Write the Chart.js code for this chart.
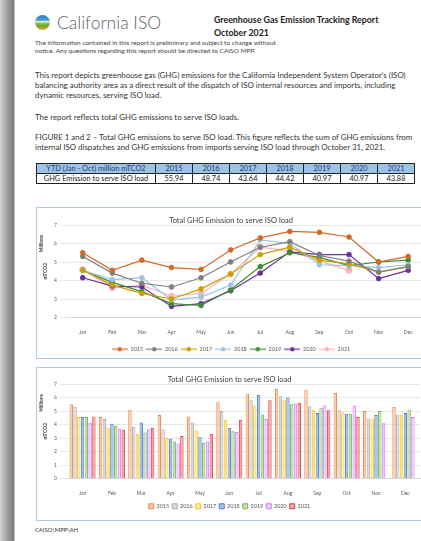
<!DOCTYPE html>
<html>
<head>
<meta charset="utf-8">
<title>Greenhouse Gas Emission Tracking Report</title>
<script src="https://cdn.jsdelivr.net/npm/chart.js@4.4.0/dist/chart.umd.min.js"></script>
<style>
    html, body {
        margin: 0;
        padding: 0;
        width: 421px;
        height: 541px;
        overflow: hidden;
        font-family: Lato, 'Liberation Sans', sans-serif;
        color: #333;
        background: linear-gradient(to right, #d4d4d4 0px, #9a9a9a 8px, #7d7d7d 14px, #ffffff 15px);
    }
    .page {
        position: absolute;
        left: 15px;
        top: 4px;
        width: 430px;
        height: 545px;
        background: #fff;
    }
    .abs { position: absolute; white-space: nowrap; }
    .logo {
        left: 20px; top: 11px; width: 15px; height: 15px; border-radius: 50%;
        background: linear-gradient(to bottom, #2a7fc1 0%, #4aa0d8 35%, #f2f2f2 45%, #8dc63f 55%, #6aa631 72%, #f5a623 100%);
    }
    .brand { left: 42px; top: 8px; font-size: 17.5px; color: #56636e; font-weight: 300; }
    .heading { left: 199px; top: 9px; font-size: 8.8px; font-weight: bold; color: #222; line-height: 13px; }
    .small { left: 20px; font-size: 6.5px; color: #444; line-height: 8px; }
    .para { left: 20px; font-size: 7.9px; color: #333; line-height: 10px; }
    table.ytd {
        position: absolute;
        left: 21px;
        top: 159px;
        border-collapse: collapse;
        font-size: 7.4px;
        color: #222;
    }
    table.ytd td {
        border: 1px solid #222;
        height: 9px;
        padding: 0 2px;
        text-align: center;
        line-height: 9px;
    }
    table.ytd tr.head td { background: #9dc3e6; color: #1f3c66; }
    table.ytd td.first { width: 114px; }
    table.ytd td.num { width: 32px; }
    .box {
        position: absolute;
        left: 21px;
        width: 400px;
        border: 1px solid #b3c8de;
        background: #fff;
    }
    .footer { left: 20px; top: 522px; font-size: 5.8px; color: #333; }
</style>
</head>
<body>
<div class="page">
    <div class="abs logo"></div>
    <div class="abs brand">California ISO</div>
    <div class="abs heading">Greenhouse Gas Emission Tracking Report<br>October 2021</div>
    <div class="abs small" style="top:35px">The information contained in this report is preliminary and subject to change without<br>notice. Any questions regarding this report should be directed to CAISO MPP.</div>
    <div class="abs para" style="top:66px">This report depicts greenhouse gas (GHG) emissions for the California Independent System Operator's (ISO)<br>balancing authority area as a direct result of the dispatch of ISO internal resources and imports, including<br>dynamic resources, serving ISO load.</div>
    <div class="abs para" style="top:108px">The report reflects total GHG emissions to serve ISO loads.</div>
    <div class="abs para" style="top:128px">FIGURE 1 and 2 &ndash; Total GHG emissions to serve ISO load. This figure reflects the sum of GHG emissions from<br>internal ISO dispatches and GHG emissions from imports serving ISO load through October 31, 2021.</div>
    <table class="ytd" id="ytdTable"></table>

    <div class="box" style="top:203px; height:150px;">
        <canvas id="lineChart"></canvas>
    </div>
    <div class="box" style="top:363px; height:152px;">
        <canvas id="barChart"></canvas>
    </div>
    <div class="abs footer">CAISO\MPP\AH</div>
</div>

<script>
// Chart data
const months = ['Jan', 'Feb', 'Mar', 'Apr', 'May', 'Jun', 'Jul', 'Aug', 'Sep', 'Oct', 'Nov', 'Dec'];
const years = ['2015', '2016', '2017', '2018', '2019', '2020', '2021'];
const ytdTotals = ['55.94', '48.74', '43.64', '44.42', '40.97', '40.97', '43.88'];

const ghg2015 = [5.50, 4.55, 5.10, 4.70, 4.60, 5.65, 6.30, 6.65, 6.60, 6.35, 5.00, 5.30];
const ghg2016 = [5.30, 4.40, 3.85, 3.65, 4.15, 5.00, 5.80, 6.10, 5.35, 5.05, 4.45, 4.75];
const ghg2017 = [4.55, 3.75, 3.30, 3.00, 3.55, 4.35, 5.40, 5.80, 5.10, 4.90, 4.45, 4.75];
const ghg2018 = [4.55, 4.05, 4.15, 2.95, 3.10, 3.75, 6.20, 6.00, 4.85, 4.80, 4.70, 4.85];
const ghg2019 = [4.55, 3.90, 3.40, 2.75, 2.65, 3.50, 4.75, 5.50, 5.25, 4.80, 5.00, 5.10];
const ghg2020 = [4.15, 3.70, 3.65, 2.60, 2.75, 3.45, 4.40, 5.55, 5.40, 5.40, 4.10, 4.55];
const ghg2021 = [4.60, 3.60, 3.75, 3.15, 3.30, 4.35, 5.80, 5.60, 5.05, 4.55, null, null];
const series = [ghg2015, ghg2016, ghg2017, ghg2018, ghg2019, ghg2020, ghg2021];

const lineTicks = [2, 3, 4, 5, 6, 7];
const barTicks = [0, 1, 2, 3, 4, 5, 6, 7];

// Colours (Excel-like)
const lineColors = ['#cf6a2b', '#7f7f7f', '#c9a000', '#9cc3e5', '#3d8b35', '#6b2d9e', '#f5b5bd'];
const barFills = ['#f8cbad', '#dbdbdb', '#ffe699', '#9dc3e6', '#c5e0b4', '#f1d0fb', '#f3a3ad'];
const barBorders = ['#ed7d31', '#a5a5a5', '#ffc000', '#4472c4', '#70ad47', '#cc66ff', '#e0302f'];

const FONT = 'Lato, "Liberation Sans", sans-serif';

// Build YTD table
function buildTable() {
    const table = document.getElementById('ytdTable');
    let head = '<tr class="head"><td class="first">YTD (Jan - Oct) million mTCO2</td>';
    let row = '<tr><td class="first">GHG Emission to serve ISO load</td>';
    years.forEach((y, i) => {
        head += '<td class="num">' + y + '</td>';
        row += '<td class="num">' + ytdTotals[i] + '</td>';
    });
    table.innerHTML = head + '</tr>' + row + '</tr>';
}

// Small legend icon: line with a round marker
function lineIcon(color) {
    const c = document.createElement('canvas');
    c.width = 16;
    c.height = 6;
    const ctx = c.getContext('2d');
    ctx.strokeStyle = color;
    ctx.lineWidth = 1.2;
    ctx.beginPath();
    ctx.moveTo(0, 3);
    ctx.lineTo(16, 3);
    ctx.stroke();
    ctx.fillStyle = color;
    ctx.beginPath();
    ctx.arc(8, 3, 2.2, 0, Math.PI * 2);
    ctx.fill();
    return c;
}

// "Millions" display-unit label next to the y axis title
const unitLabel = {
    id: 'unitLabel',
    afterDraw: function(chart) {
        const {ctx, chartArea} = chart;
        const yScale = chart.scales.y;
        ctx.save();
        ctx.font = 'bold 5px ' + FONT;
        ctx.fillStyle = '#404040';
        ctx.textAlign = 'center';
        ctx.textBaseline = 'middle';
        ctx.translate(yScale.left + 2, chartArea.top + (chartArea.bottom - chartArea.top) * 0.2);
        ctx.rotate(-Math.PI / 2);
        ctx.fillText('Millions', 0, 0);
        ctx.restore();
    }
};

function commonScales(min, max, ticks, xGap) {
    return {
        x: {
            offset: true,
            grid: { display: false },
            border: { color: '#d9d9d9' },
            ticks: { font: { size: 5, family: FONT }, color: '#595959', padding: 4 },
            afterFit: function(axis) {
                axis.height += xGap;
            }
        },
        y: {
            min: min,
            max: max,
            afterBuildTicks: function(axis) {
                axis.ticks = ticks.map(v => ({ value: v }));
            },
            grid: { color: '#e2e2e2', lineWidth: 0.8 },
            border: { display: false },
            ticks: { font: { size: 5, family: FONT }, color: '#595959', padding: 3 },
            title: { display: true, text: 'mTCO2', font: { size: 5, weight: 'bold', family: FONT }, color: '#404040', padding: 3 }
        }
    };
}

function initializeCharts() {
    Chart.defaults.font.family = FONT;
    Chart.defaults.animation = false;

    // Line chart
    new Chart(document.getElementById('lineChart'), {
        type: 'line',
        data: {
            labels: months,
            datasets: years.map((y, i) => ({
                label: y,
                data: series[i],
                borderColor: lineColors[i],
                backgroundColor: lineColors[i],
                borderWidth: 1.2,
                pointRadius: i === 6 ? 3 : 2.4,
                pointBorderWidth: 0.8,
                tension: 0
            }))
        },
        options: {
            responsive: true,
            maintainAspectRatio: false,
            layout: { padding: { left: 2, right: 14, top: 0, bottom: -4 } },
            plugins: {
                title: {
                    display: true,
                    text: 'Total GHG Emission to serve ISO load',
                    font: { size: 7.5, weight: 'normal', family: FONT },
                    color: '#404040',
                    padding: { top: 8, bottom: 0 }
                },
                legend: {
                    position: 'bottom',
                    labels: {
                        usePointStyle: true,
                        pointStyleWidth: 16,
                        font: { size: 5.5, family: FONT },
                        color: '#595959',
                        padding: 3,
                        generateLabels: function(chart) {
                            return chart.data.datasets.map((ds, i) => ({
                                text: ds.label,
                                pointStyle: lineIcon(ds.borderColor),
                                fillStyle: ds.borderColor,
                                strokeStyle: ds.borderColor,
                                lineWidth: 0,
                                fontColor: '#595959',
                                datasetIndex: i
                            }));
                        }
                    }
                },
                tooltip: { enabled: false }
            },
            scales: commonScales(2, 7, lineTicks, 4)
        },
        plugins: [unitLabel]
    });

    // Bar chart
    new Chart(document.getElementById('barChart'), {
        type: 'bar',
        data: {
            labels: months,
            datasets: years.map((y, i) => ({
                label: y,
                data: series[i],
                backgroundColor: barFills[i],
                borderColor: barBorders[i],
                borderWidth: 0.9,
                categoryPercentage: 0.9,
                barPercentage: 0.88
            }))
        },
        options: {
            responsive: true,
            maintainAspectRatio: false,
            layout: { padding: { left: 2, right: 17, top: 0, bottom: 1 } },
            plugins: {
                title: {
                    display: true,
                    text: 'Total GHG Emission to serve ISO load',
                    font: { size: 7.5, weight: 'normal', family: FONT },
                    color: '#404040',
                    padding: { top: 7, bottom: 0 }
                },
                legend: {
                    position: 'bottom',
                    labels: {
                        boxWidth: 5,
                        boxHeight: 5,
                        font: { size: 5.5, family: FONT },
                        color: '#595959',
                        padding: 3
                    }
                },
                tooltip: { enabled: false }
            },
            scales: commonScales(0, 7, barTicks, 0)
        },
        plugins: [unitLabel]
    });
}

document.addEventListener('DOMContentLoaded', function() {
    buildTable();
    initializeCharts();
});
</script>
</body>
</html>
